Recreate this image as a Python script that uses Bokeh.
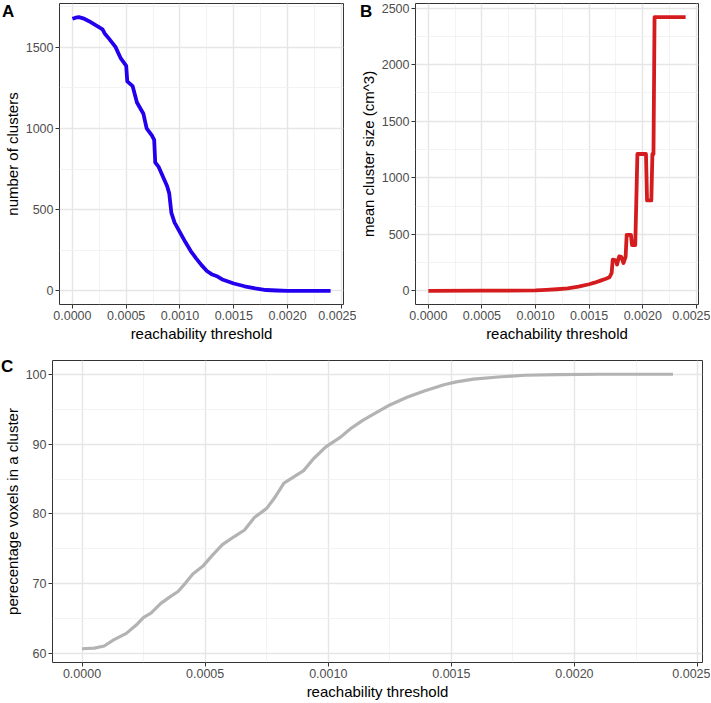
from bokeh.plotting import figure
from bokeh.layouts import column, row
from bokeh.models import FixedTicker, PrintfTickFormatter, Range1d, Div
from bokeh.embed import file_html
from bokeh.resources import INLINE

# ---------------- data ----------------
# Panel A: number of clusters vs reachability threshold
a_threshold = [0.0, 0.00003, 0.00006, 0.0001, 0.00015, 0.0002, 0.00025, 0.00028, 0.0003,
               0.00034, 0.0004, 0.00045, 0.00049, 0.0005, 0.00051, 0.00056, 0.0006, 0.00066,
               0.00069, 0.00074, 0.00076, 0.00077, 0.0008, 0.00085, 0.00088, 0.0009, 0.00092,
               0.00095, 0.001, 0.00105, 0.0011, 0.00115, 0.0012, 0.00125, 0.0013, 0.00135,
               0.0014, 0.0015, 0.0016, 0.0017, 0.0018, 0.0019, 0.002, 0.0022, 0.0024]
a_clusters = [1675, 1682, 1685, 1678, 1662, 1642, 1622, 1610, 1585,
              1553, 1502, 1431, 1395, 1385, 1290, 1260, 1160, 1090,
              1000, 955, 930, 790, 765, 690, 645, 600, 480,
              420, 360, 300, 245, 200, 158, 122, 100, 88,
              68, 45, 28, 15, 5, 2, 0, 0, 0]

# Panel B: mean cluster size (cm^3) vs reachability threshold
b_threshold = [0.0, 0.0005, 0.001, 0.0011, 0.0012, 0.0013, 0.0014, 0.0015, 0.00155, 0.0016,
               0.00165, 0.00169, 0.00171, 0.00172, 0.00175, 0.00176, 0.00178, 0.0018, 0.00182,
               0.00184, 0.00185, 0.00189, 0.0019, 0.00193, 0.00194, 0.00195, 0.00203, 0.00204,
               0.00208, 0.00209, 0.0021, 0.00211, 0.0024]
b_size = [0, 1, 4, 8, 14, 22, 38, 58, 72, 88,
          105, 120, 158, 275, 270, 232, 304, 300, 246,
          300, 494, 494, 405, 405, 800, 1210, 1210, 800,
          800, 1210, 1210, 2420, 2420]

# Panel C: percentage voxels in a cluster vs reachability threshold
c_threshold = [0.0, 0.00005, 0.00009, 0.00013, 0.00018, 0.00022, 0.00025, 0.00028, 0.00032,
               0.00036, 0.00039, 0.00042, 0.00045, 0.00049, 0.00053, 0.00057, 0.00062, 0.00066,
               0.0007, 0.00075, 0.00078, 0.00082, 0.00086, 0.0009, 0.00094, 0.00099, 0.00105,
               0.00109, 0.00114, 0.0012, 0.00125, 0.00132, 0.00139, 0.00147, 0.00152, 0.00159,
               0.00169, 0.0018, 0.00193, 0.0021, 0.0024]
c_percent = [60.7, 60.8, 61.1, 62.0, 62.9, 64.1, 65.2, 65.8, 67.2,
             68.2, 68.9, 70.1, 71.4, 72.5, 74.1, 75.6, 76.8, 77.7,
             79.5, 80.8, 82.2, 84.4, 85.3, 86.2, 87.9, 89.6, 91.0,
             92.2, 93.4, 94.6, 95.6, 96.7, 97.6, 98.5, 98.9, 99.3,
             99.6, 99.85, 99.95, 100.0, 100.0]

x_ticks = [0.0, 0.0005, 0.0010, 0.0015, 0.0020, 0.0025]
x_minor = [0.00025, 0.00075, 0.00125, 0.00175, 0.00225]
a_yticks = [0, 500, 1000, 1500]
a_yminor = [250, 750, 1250, 1750]
b_yticks = [0, 500, 1000, 1500, 2000, 2500]
b_yminor = [250, 750, 1250, 1750, 2250]
c_yticks = [60, 70, 80, 90, 100]
c_yminor = [65, 75, 85, 95]

x_title = "reachability threshold"
panel_tags = ["A", "B", "C"]

FONT = "Liberation Sans"


def padded(vals, frac=0.05):
    lo, hi = min(vals), max(vals)
    span = hi - lo
    return Range1d(lo - frac * span, hi + frac * span)


def make_fig(width, height, xs, ys, left, right, top, bottom,
             yt, ym, ylabel, yfmt):
    p = figure(width=width, height=height, x_range=padded(xs), y_range=padded(ys),
               output_backend="svg", toolbar_location=None,
               min_border_left=left, min_border_right=right,
               min_border_top=top, min_border_bottom=bottom)
    p.background_fill_color = "white"
    p.border_fill_color = "white"
    p.outline_line_color = "#333333"
    p.outline_line_width = 1

    xtick = FixedTicker(ticks=x_ticks, minor_ticks=x_minor)
    ytick = FixedTicker(ticks=yt, minor_ticks=ym)
    p.xaxis.ticker = xtick
    p.yaxis.ticker = ytick
    p.xgrid.ticker = xtick
    p.ygrid.ticker = ytick
    p.xaxis.formatter = PrintfTickFormatter(format="%.4f")
    p.yaxis.formatter = PrintfTickFormatter(format=yfmt)

    for g in (p.xgrid, p.ygrid):
        g.grid_line_color = "#e6e6e6"
        g.grid_line_width = 1.4
        g.minor_grid_line_color = "#f0f0f0"
        g.minor_grid_line_width = 0.8

    for ax in (p.xaxis, p.yaxis):
        ax.axis_line_color = None
        ax.major_tick_line_color = "#333333"
        ax.major_tick_in = 0
        ax.major_tick_out = 4
        ax.minor_tick_line_color = None
        ax.major_label_text_font = FONT
        ax.major_label_text_font_size = "12.5px"
        ax.major_label_text_color = "#4d4d4d"
        ax.major_label_standoff = 2
        ax.axis_label_text_font = FONT
        ax.axis_label_text_font_size = "15px"
        ax.axis_label_text_font_style = "normal"
        ax.axis_label_text_color = "black"
        ax.axis_label_standoff = 2
    p.xaxis.axis_label = x_title
    p.yaxis.axis_label = ylabel
    return p


def tag_div(text, left, top):
    return Div(
        text=(f'<span style="font-family:\'{FONT}\';font-weight:bold;'
              f'font-size:17px;line-height:1;color:black;white-space:nowrap">{text}</span>'),
        width=20, height=20,
        styles={"position": "absolute", "left": f"{left}px", "top": f"{top}px",
                "z-index": "10", "overflow": "visible", "margin": "0", "padding": "0"})


# ---------------- panel A ----------------
pA = make_fig(356, 345, a_threshold, a_clusters, 57, 13, 3, 41,
              a_yticks, a_yminor, "number of clusters", "%d")
pA.line(a_threshold, a_clusters, line_color="#2200ee", line_width=3.8, line_join="round")

# ---------------- panel B ----------------
pB = make_fig(354, 345, b_threshold, b_size, 58, 12, 3, 41,
              b_yticks, b_yminor, "mean cluster size (cm^3)", "%d")
pB.line(b_threshold, b_size, line_color="#d41c1f", line_width=3.8, line_join="round")

# ---------------- panel C ----------------
pC = make_fig(710, 357, c_threshold, c_percent, 49, 8, 15, 40,
              c_yticks, c_yminor, "perecentage voxels in a cluster", "%d")
pC.line(c_threshold, c_percent, line_color="#b3b3b3", line_width=3.2, line_join="round")

tags = [tag_div(panel_tags[0], 2, 3), tag_div(panel_tags[1], 360, 3),
        tag_div(panel_tags[2], 1, 358)]

layout = column(row(pA, pB), pC, *tags)

open("out.html", "w").write(file_html(layout, INLINE))
